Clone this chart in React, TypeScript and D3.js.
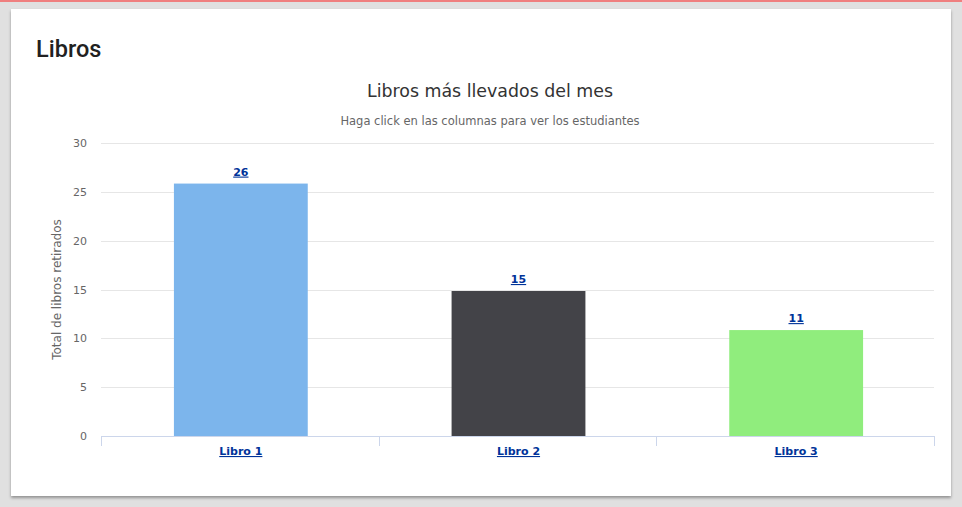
import React from 'react';
import * as d3 from 'd3';

const libros = ['Libro 1', 'Libro 2', 'Libro 3'];
const retirados = [26, 15, 11];
const colores = ['#7cb5ec', '#434348', '#90ed7d'];
const yTicks = [0, 5, 10, 15, 20, 25, 30];

const W = 962;
const H = 507;
const plot = { left: 101, right: 934, top: 143, bottom: 436 };
const chartFont = '"DejaVu Sans", Verdana, Arial, sans-serif';

const App: React.FC = () => {
  const x = d3
    .scaleBand<string>()
    .domain(libros)
    .range([plot.left, plot.right])
    .padding(0);

  const y = d3
    .scaleLinear()
    .domain([0, 30])
    .range([plot.bottom, plot.top]);

  const barW = x.bandwidth() * 0.482;
  const boundaries = [...libros.map(d => x(d) as number), plot.right];

  return (
    <svg
      width={W}
      height={H}
      style={{ position: 'absolute', left: 0, top: 0, display: 'block' }}
    >
      <defs>
        <filter id="sombra" x="-5%" y="-5%" width="110%" height="115%">
          <feDropShadow dx="0" dy="2" stdDeviation="1.5" floodColor="#000" floodOpacity="0.35" />
        </filter>
      </defs>
      <rect x={0} y={0} width={W} height={H} fill="#e0e0e0" />
      <rect x={0} y={0} width={W} height={2} fill="#ef7f7f" />
      <rect x={11} y={9} width={940} height={487} fill="#fff" filter="url(#sombra)" />

      <text
        x={36}
        y={57}
        fontFamily="Roboto, sans-serif"
        fontSize={23.5}
        fontWeight={500}
        fill="#212121"
      >
        Libros
      </text>

      <text
        x={490}
        y={97}
        textAnchor="middle"
        fontFamily={chartFont}
        fontSize={17.4}
        fill="#333333"
      >
        Libros más llevados del mes
      </text>
      <text
        x={490}
        y={125}
        textAnchor="middle"
        fontFamily={chartFont}
        fontSize={11.5}
        fill="#666666"
      >
        Haga click en las columnas para ver los estudiantes
      </text>

      {/* grid + y labels */}
      {yTicks.map(t => (
        <g key={t}>
          {t > 0 && (
            <line
              x1={plot.left}
              x2={plot.right}
              y1={Math.round(y(t)) + 0.5}
              y2={Math.round(y(t)) + 0.5}
              stroke="#e6e6e6"
            />
          )}
          <text
            x={87}
            y={y(t) + 4}
            textAnchor="end"
            fontFamily={chartFont}
            fontSize={11}
            fill="#666666"
          >
            {t}
          </text>
        </g>
      ))}

      <text
        transform={`translate(61,${(plot.top + plot.bottom) / 2}) rotate(-90)`}
        textAnchor="middle"
        fontFamily={chartFont}
        fontSize={12}
        fill="#666666"
      >
        Total de libros retirados
      </text>

      {/* bars */}
      {libros.map((d, i) => {
        const cx = (x(d) as number) + x.bandwidth() / 2 + 1;
        const top = y(retirados[i]) + 1.5;
        return (
          <g key={d}>
            <rect
              x={cx - barW / 2}
              y={top}
              width={barW}
              height={y(0) - top}
              fill={colores[i]}
            />
            <text
              x={cx}
              y={top - 8}
              textAnchor="middle"
              fontFamily={chartFont}
              fontSize={11}
              fontWeight="bold"
              textDecoration="underline"
              fill="#003399"
            >
              {retirados[i]}
            </text>
            <text
              x={cx}
              y={455}
              textAnchor="middle"
              fontFamily={chartFont}
              fontSize={11}
              fontWeight="bold"
              textDecoration="underline"
              fill="#003399"
            >
              {d}
            </text>
          </g>
        );
      })}

      {/* x axis */}
      <line
        x1={plot.left}
        x2={plot.right}
        y1={plot.bottom + 0.5}
        y2={plot.bottom + 0.5}
        stroke="#ccd6eb"
      />
      {boundaries.map((b, i) => (
        <line
          key={i}
          x1={Math.round(b) + 0.5}
          x2={Math.round(b) + 0.5}
          y1={plot.bottom}
          y2={plot.bottom + 10}
          stroke="#ccd6eb"
        />
      ))}
    </svg>
  );
};

export default App;
